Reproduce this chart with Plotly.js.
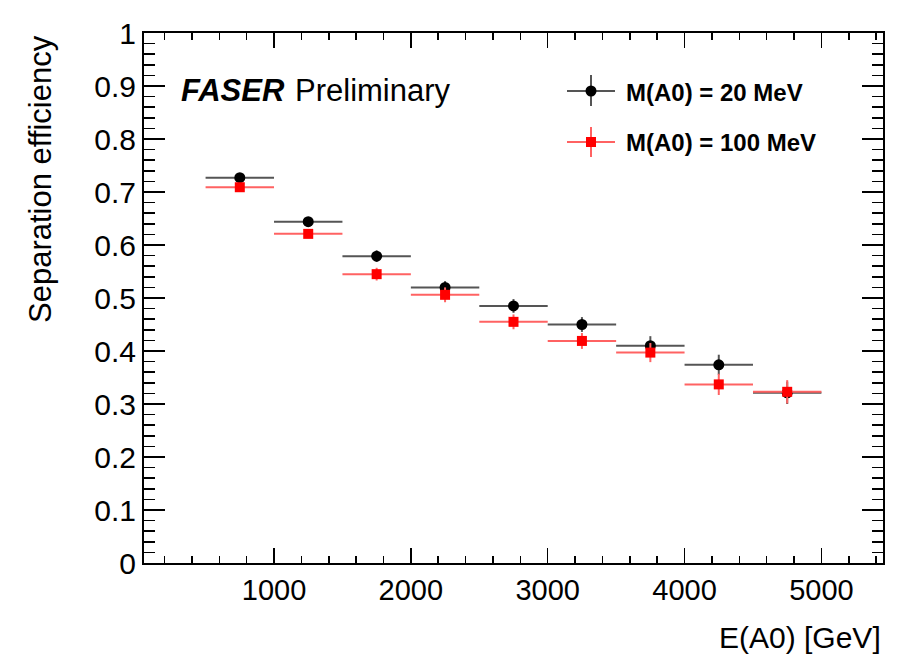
<!DOCTYPE html>
<html>
<head>
<meta charset="utf-8">
<script src="https://cdn.plot.ly/plotly-3.0.1.min.js"></script>
<style>html,body{margin:0;padding:0;background:#fff;}#chart{width:918px;height:655px;}</style>
</head>
<body>
<div id="chart"></div>
<script>
// Bin centres of E(A0) [GeV] and half bin widths
const energy = [750, 1250, 1750, 2250, 2750, 3250, 3750, 4250, 4750];
const halfBin = [250, 250, 250, 250, 250, 250, 250, 250, 250];
// Separation efficiency, M(A0) = 20 MeV
const eff20 = [0.727, 0.644, 0.579, 0.520, 0.485, 0.450, 0.410, 0.374, 0.321];
const err20 = [0.006, 0.008, 0.011, 0.012, 0.013, 0.014, 0.018, 0.019, 0.021];
// Separation efficiency, M(A0) = 100 MeV
const eff100 = [0.709, 0.621, 0.545, 0.506, 0.455, 0.419, 0.397, 0.337, 0.323];
const err100 = [0.006, 0.008, 0.012, 0.014, 0.014, 0.015, 0.018, 0.020, 0.022];
const seriesNames = ["M(A0) = 20 MeV", "M(A0) = 100 MeV"];

const FONT = "Liberation Sans, Arial, Helvetica, sans-serif";

const traces = [
  {
    x: energy, y: eff20, type: "scatter", mode: "markers", name: seriesNames[0],
    marker: {symbol: "circle", size: 11, color: "#000"},
    error_x: {type: "data", array: halfBin, visible: true, width: 0, thickness: 2, color: "#555"},
    error_y: {type: "data", array: err20, visible: true, width: 0, thickness: 2, color: "#555"},
    showlegend: false
  },
  {
    x: energy, y: eff100, type: "scatter", mode: "markers", name: seriesNames[1],
    marker: {symbol: "square", size: 10, color: "#ff0000"},
    error_x: {type: "data", array: halfBin, visible: true, width: 0, thickness: 2, color: "#ff6262"},
    error_y: {type: "data", array: err100, visible: true, width: 0, thickness: 2, color: "#ff6262"},
    showlegend: false
  }
];

// pixel helpers for legend decoration (plot area 144..883 x 33..563)
const L = 144, R = 883, T = 33, B = 563;
const px = v => (v - L) / (R - L);
const py = v => (B - v) / (B - T);

const layout = {
  width: 918, height: 655,
  margin: {l: L, r: 918 - R, t: T, b: 655 - B},
  paper_bgcolor: "#fff", plot_bgcolor: "#fff",
  font: {family: FONT, color: "#000", size: 29},
  showlegend: false,
  xaxis: {
    range: [50, 5450], tick0: 0, dtick: 1000,
    ticks: "inside", ticklen: 15, tickwidth: 1.5, tickcolor: "#000",
    showline: true, linecolor: "#000", linewidth: 2, mirror: "allticks",
    showgrid: false, zeroline: false,
    tickfont: {family: FONT, size: 29, color: "#000"},
    ticklabelstandoff: 0,
    minor: {ticks: "inside", ticklen: 7, tickwidth: 1.5, tickcolor: "#000", dtick: 200, showgrid: false}
  },
  yaxis: {
    range: [0, 1], tick0: 0, dtick: 0.1,
    ticks: "inside", ticklen: 21, tickwidth: 1.5, tickcolor: "#000",
    showline: true, linecolor: "#000", linewidth: 2, mirror: "allticks",
    showgrid: false, zeroline: false,
    tickfont: {family: FONT, size: 30, color: "#000"},
    ticklabelstandoff: 0,
    minor: {ticks: "inside", ticklen: 11, tickwidth: 1.5, tickcolor: "#000", dtick: 0.02, showgrid: false}
  },
  annotations: [
    {text: "Separation efficiency", xref: "paper", yref: "paper", x: px(40), y: 1,
     xanchor: "center", yanchor: "top", textangle: -90, showarrow: false,
     font: {family: FONT, size: 31, color: "#000"}},
    {text: "E(A0) [GeV]", xref: "paper", yref: "paper", x: 1, y: py(637),
     xanchor: "right", yanchor: "middle", showarrow: false,
     font: {family: FONT, size: 30, color: "#000"}},
    {text: "<b><i>FASER</i></b>", xref: "paper", yref: "paper", x: px(179), y: py(91),
     xanchor: "left", yanchor: "middle", showarrow: false,
     font: {family: FONT, size: 31, color: "#000"}},
    {text: "Preliminary", xref: "paper", yref: "paper", x: px(293), y: py(91),
     xanchor: "left", yanchor: "middle", showarrow: false,
     font: {family: FONT, size: 31, color: "#000"}},
    {text: "<b>" + seriesNames[0] + "</b>", xref: "paper", yref: "paper", x: px(624), y: py(93),
     xanchor: "left", yanchor: "middle", showarrow: false,
     font: {family: FONT, size: 24, color: "#000"}},
    {text: "<b>" + seriesNames[1] + "</b>", xref: "paper", yref: "paper", x: px(624), y: py(143),
     xanchor: "left", yanchor: "middle", showarrow: false,
     font: {family: FONT, size: 24, color: "#000"}}
  ],
  shapes: [
    // legend key: 20 MeV
    {type: "line", xref: "paper", yref: "paper", x0: px(567), x1: px(615), y0: py(91), y1: py(91), line: {color: "#555", width: 2}},
    {type: "line", xref: "paper", yref: "paper", x0: px(591), x1: px(591), y0: py(75), y1: py(106), line: {color: "#555", width: 2}},
    {type: "circle", xref: "paper", yref: "paper", x0: px(585.5), x1: px(596.5), y0: py(85.5), y1: py(96.5), fillcolor: "#000", line: {width: 0}},
    // legend key: 100 MeV
    {type: "line", xref: "paper", yref: "paper", x0: px(567), x1: px(615), y0: py(142), y1: py(142), line: {color: "#ff6262", width: 2}},
    {type: "line", xref: "paper", yref: "paper", x0: px(591), x1: px(591), y0: py(127), y1: py(157), line: {color: "#ff6262", width: 2}},
    {type: "rect", xref: "paper", yref: "paper", x0: px(586), x1: px(596), y0: py(137), y1: py(147), fillcolor: "#ff0000", line: {width: 0}}
  ]
};

Plotly.newPlot("chart", traces, layout, {displayModeBar: false, staticPlot: true});
</script>
</body>
</html>
